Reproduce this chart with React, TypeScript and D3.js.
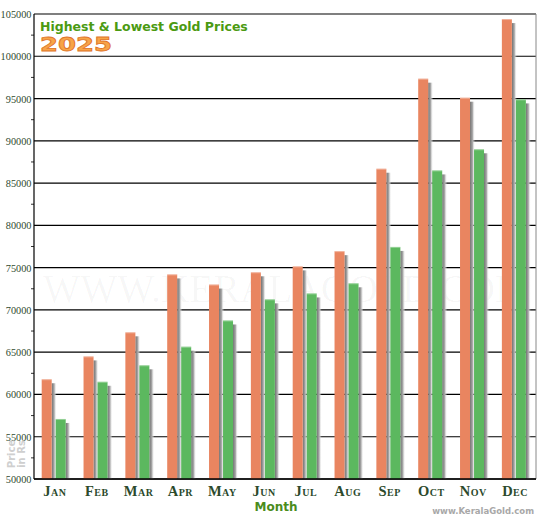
import React from 'react';
import * as d3 from 'd3';

const months = ['Jan', 'Feb', 'Mar', 'Apr', 'May', 'Jun', 'Jul', 'Aug', 'Sep', 'Oct', 'Nov', 'Dec'];
const highest = [61800, 64500, 67350, 74200, 73000, 74450, 75150, 76950, 86700, 97350, 95100, 104400];
const lowest = [57100, 61500, 63450, 65650, 68750, 71250, 71950, 73150, 77450, 86500, 89000, 94900];
const yTicks = [50000, 55000, 60000, 65000, 70000, 75000, 80000, 85000, 90000, 95000, 100000, 105000];

const W = 550;
const H = 520;
const margin = { top: 14, right: 14, bottom: 41, left: 34 };

const App: React.FC = () => {
  const x0 = d3.scaleBand<string>()
    .domain(months)
    .range([margin.left, W - margin.right]);
  const x1 = d3.scaleBand<string>()
    .domain(['high', 'low'])
    .range([7.7, 31.7])
    .paddingInner(0.2857);
  const y = d3.scaleLinear()
    .domain([50000, 105000])
    .range([H - margin.bottom, margin.top]);

  const minorTicks = d3.pairs(yTicks).map(([a, b]) => (a + b) / 2);
  const bottom = y(50000);
  const bw = x1.bandwidth();

  const series = [
    { key: 'high', values: highest, color: '#e98560' },
    { key: 'low', values: lowest, color: '#5cb85f' }
  ];

  return (
    <svg width={W} height={H} style={{ position: 'absolute', left: 0, top: 0, background: '#fff' }}>
      <defs>
        <linearGradient id="shadow" x1="0" x2="1" y1="0" y2="0">
          <stop offset="0" stopColor="#707070" />
          <stop offset="0.5" stopColor="#aaaaaa" />
          <stop offset="1" stopColor="#ffffff" stopOpacity={0} />
        </linearGradient>
      </defs>

      {/* watermark */}
      <text
        x={43}
        y={302}
        fontFamily="Liberation Serif, serif"
        fontSize={41}
        fill="#000"
        fillOpacity={0.035}
        textLength={487}
        lengthAdjust="spacingAndGlyphs"
      >
        WWW.KERALAGOLD.COM
      </text>

      {/* gridlines */}
      {yTicks.map(t => (
        <line key={t} x1={margin.left} x2={W - margin.right} y1={y(t)} y2={y(t)} stroke="#000" strokeWidth={1.2} />
      ))}
      {minorTicks.map(t => (
        <line key={t} x1={margin.left - 3} x2={margin.left} y1={y(t)} y2={y(t)} stroke="#333" strokeWidth={1} />
      ))}

      {/* bars */}
      {series.map(s => (
        <g key={s.key}>
          {s.values.map((v, i) => {
            const bx = (x0(months[i]) as number) + (x1(s.key) as number);
            const by = y(v);
            return (
              <g key={i}>
                <rect x={bx + bw} y={by + 4} width={5} height={bottom - by - 4} fill="url(#shadow)" />
                <rect x={bx} y={by} width={bw} height={bottom - by} fill={s.color} />
                <rect x={bx} y={by} width={bw} height={1} fill="#fff" fillOpacity={0.35} />
              </g>
            );
          })}
        </g>
      ))}

      {/* frame */}
      <line x1={W - margin.right} x2={W - margin.right} y1={margin.top} y2={bottom} stroke="#888" strokeWidth={1} />
      <line x1={margin.left} x2={margin.left} y1={margin.top} y2={bottom} stroke="#000" strokeWidth={1.2} />
      <line x1={margin.left} x2={W - margin.right} y1={bottom} y2={bottom} stroke="#000" strokeWidth={1.5} />

      {/* y labels */}
      {yTicks.map(t => (
        <text
          key={t}
          x={margin.left - 2.5}
          y={y(t) + 4}
          textAnchor="end"
          fontFamily="Liberation Serif, serif"
          fontSize={10.3}
          fill="#2f4a2f"
        >
          {t}
        </text>
      ))}

      {/* x labels */}
      {months.map(m => (
        <text
          key={m}
          x={(x0(m) as number) + x0.bandwidth() / 2}
          y={496}
          textAnchor="middle"
          fontFamily="Liberation Serif, serif"
          fontWeight="bold"
          fontSize={14.5}
          fill="#2c4a2c"
          letterSpacing={0.5}
          style={{ fontVariant: 'small-caps' }}
        >
          {m}
        </text>
      ))}

      {/* titles */}
      <text x={40} y={31} fontFamily="DejaVu Sans, Verdana, sans-serif" fontWeight="bold" fontSize={12.5} fill="#4b9a12">
        Highest &amp; Lowest Gold Prices
      </text>
      <text
        x={40}
        y={50.5}
        fontFamily="DejaVu Sans, Verdana, sans-serif"
        fontWeight="bold"
        fontSize={19.5}
        fill="#f7a447"
        stroke="#e0752a"
        strokeWidth={0.8}
        textLength={72}
        lengthAdjust="spacingAndGlyphs"
      >
        2025
      </text>

      <text x={276} y={511} textAnchor="middle" fontFamily="DejaVu Sans, Verdana, sans-serif" fontWeight="bold" fontSize={12} fill="#4b8c1c">
        Month
      </text>

      {/* y axis title */}
      <g fontFamily="DejaVu Sans, Verdana, sans-serif" fontWeight="bold" fontSize={10} fill="#cfcfcf">
        <text transform="translate(15,454) rotate(-90)" textAnchor="middle">Price</text>
        <text transform="translate(25,454) rotate(-90)" textAnchor="middle">in Rs</text>
      </g>

      <text x={534} y={514} textAnchor="end" fontFamily="DejaVu Sans, Verdana, sans-serif" fontWeight="bold" fontSize={8.5} fill="#a8a8a8">
        www.KeralaGold.com
      </text>
    </svg>
  );
};

export default App;
